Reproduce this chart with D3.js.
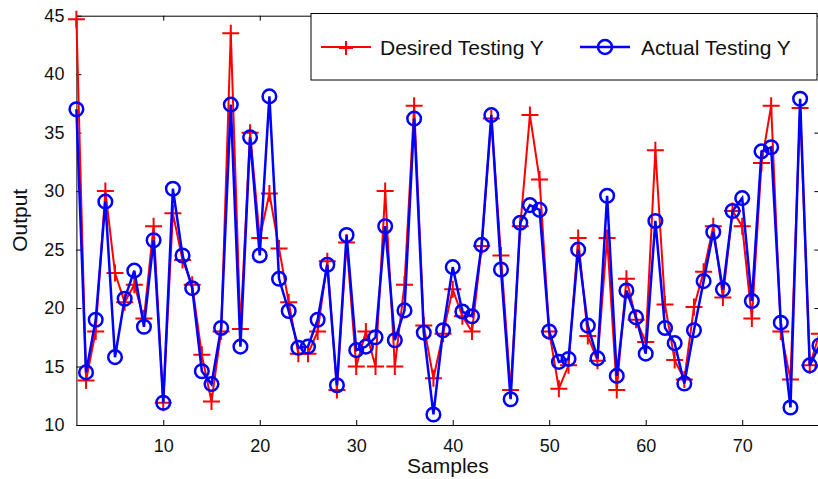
<!doctype html>
<html lang="en">
<head>
<meta charset="utf-8">
<title>Desired vs Actual Testing Y</title>
<script src="https://d3js.org/d3.v7.min.js"></script>
<style>
  body { margin: 0; background: #fff; }
  svg { display: block; font-family: "Liberation Sans", Arial, sans-serif; }
  .axis path, .axis line { stroke: #000; stroke-width: 1; }
  .axis text { font-size: 18px; fill: #111; }
</style>
</head>
<body>
<svg class="chart" width="818" height="479"></svg>
<script>
// sample numbers 1..78
var samples = d3.range(1, 79);

// red "+" series
var desiredY = [44.7, 13.8, 18.0, 30.0, 23.0, 20.5, 22.0, 19.1, 27.0, 11.9,
                28.1, 24.1, 22.0, 16.0, 12.0, 18.0, 43.5, 18.2, 35.0, 26.0,
                29.8, 25.1, 20.5, 16.1, 16.1, 18.0, 24.0, 13.0, 25.6, 15.0,
                18.0, 15.0, 30.0, 15.0, 22.0, 37.3, 18.5, 14.0, 17.8, 21.6,
                19.3, 18.0, 25.3, 36.2, 24.5, 13.0, 27.0, 36.5, 31.0, 18.0,
                13.1, 15.1, 26.0, 17.6, 15.5, 26.0, 13.0, 22.5, 19.0, 17.1,
                33.5, 20.3, 15.55, 13.9, 20.1, 23.1, 27.0, 20.9, 28.3, 27.0,
                19.1, 32.4, 37.3, 18.0, 13.9, 37.1, 15.1, 17.8];

// blue "o" series
var actualY = [37.0, 14.5, 19.0, 29.1, 15.8, 20.8, 23.2, 18.4, 25.8, 11.9,
               30.2, 24.5, 21.7, 14.6, 13.5, 18.3, 37.4, 16.7, 34.6, 24.5,
               38.1, 22.5, 19.75, 16.6, 16.7, 19.0, 23.7, 13.4, 26.25, 16.4,
               16.7, 17.5, 27.0, 17.25, 19.8, 36.2, 17.9, 10.9, 18.1, 23.5,
               19.7, 19.3, 25.4, 36.5, 23.3, 12.2, 27.3, 28.8, 28.4, 18.0,
               15.4, 15.65, 25.0, 18.5, 15.7, 29.6, 14.2, 21.5, 19.2, 16.1,
               27.45, 18.3, 17.0, 13.55, 18.1, 22.3, 26.5, 21.6, 28.3, 29.4,
               20.6, 33.4, 33.75, 18.75, 11.5, 37.9, 15.1, 16.8];

var xTicks = [10, 20, 30, 40, 50, 60, 70];
var yTicks = [10, 15, 20, 25, 30, 35, 40, 45];
var legendLabels = ["Desired Testing Y", "Actual Testing Y"];

// plot box edges (right edge sits just past the picture)
var boxLeft = 76.4, boxRight = 819.4, boxTop = 15.7, boxBottom = 425;

var x = d3.scaleLinear().domain([1, 78]).range([boxLeft, boxRight]);
var y = d3.scaleLinear().domain([10, 45]).range([boxBottom, boxTop]);

var svg = d3.select(".chart");

// axes box with inward ticks (matlab style)
svg.append("g").attr("class", "axis")
  .attr("transform", "translate(0," + boxBottom + ")")
  .call(d3.axisBottom(x).tickValues(xTicks).tickSize(-5).tickPadding(14).tickSizeOuter(0));
svg.append("g").attr("class", "axis")
  .attr("transform", "translate(0," + boxTop + ")")
  .call(d3.axisTop(x).tickValues(xTicks).tickSize(-5).tickSizeOuter(0).tickFormat(""));
svg.append("g").attr("class", "axis")
  .attr("transform", "translate(" + boxLeft + ",0)")
  .call(d3.axisLeft(y).tickValues(yTicks).tickSize(-5).tickPadding(12).tickSizeOuter(0));
svg.append("g").attr("class", "axis")
  .attr("transform", "translate(" + boxRight + ",0)")
  .call(d3.axisRight(y).tickValues(yTicks).tickSize(-5).tickSizeOuter(0).tickFormat(""));

svg.append("text").attr("x", (boxLeft + boxRight) / 2).attr("y", 473)
  .style("text-anchor", "middle").style("font-size", "21px").style("fill", "#111")
  .text("Samples");
svg.append("text").attr("transform", "translate(27," + ((boxTop + boxBottom) / 2) + ") rotate(-90)")
  .style("text-anchor", "middle").style("font-size", "21px").style("fill", "#111")
  .text("Output");

var line = d3.line()
  .x(function(d, i) { return x(samples[i]); })
  .y(function(d) { return y(d); });

function plus(cx, cy, s) {
  return "M" + (cx - s) + "," + cy + "H" + (cx + s) + "M" + cx + "," + (cy - s) + "V" + (cy + s);
}

// desired series
svg.append("path").datum(desiredY)
  .attr("d", line).attr("fill", "none").attr("stroke", "#ff0000").attr("stroke-width", 2);
svg.append("g").selectAll("path")
  .data(desiredY).enter().append("path")
  .attr("d", function(d, i) { return plus(x(samples[i]), y(d), 8.5); })
  .attr("stroke", "#ff0000").attr("stroke-width", 2);

// actual series
svg.append("path").datum(actualY)
  .attr("d", line).attr("fill", "none").attr("stroke", "#0000ff").attr("stroke-width", 2.5);
svg.append("g").selectAll("circle")
  .data(actualY).enter().append("circle")
  .attr("cx", function(d, i) { return x(samples[i]); })
  .attr("cy", function(d) { return y(d); })
  .attr("r", 6.8).attr("fill", "none").attr("stroke", "#0000ff").attr("stroke-width", 2.5);

// legend
var legend = svg.append("g");
legend.append("rect").attr("x", 311).attr("y", 13.5).attr("width", 506).attr("height", 66.5)
  .attr("fill", "#fff").attr("stroke", "#000").attr("stroke-width", 1);

legend.append("line").attr("x1", 321).attr("x2", 371).attr("y1", 47).attr("y2", 47)
  .attr("stroke", "#ff0000").attr("stroke-width", 2);
legend.append("path").attr("d", plus(346, 48, 7))
  .attr("stroke", "#ff0000").attr("stroke-width", 2);
legend.append("text").attr("x", 380).attr("y", 55).style("font-size", "21px").style("fill", "#111")
  .text(legendLabels[0]);

legend.append("line").attr("x1", 580).attr("x2", 630).attr("y1", 47).attr("y2", 47)
  .attr("stroke", "#0000ff").attr("stroke-width", 2.5);
legend.append("circle").attr("cx", 605).attr("cy", 47).attr("r", 7)
  .attr("fill", "none").attr("stroke", "#0000ff").attr("stroke-width", 2.5);
legend.append("text").attr("x", 641).attr("y", 55).style("font-size", "21px").style("fill", "#111")
  .text(legendLabels[1]);
</script>
</body>
</html>
